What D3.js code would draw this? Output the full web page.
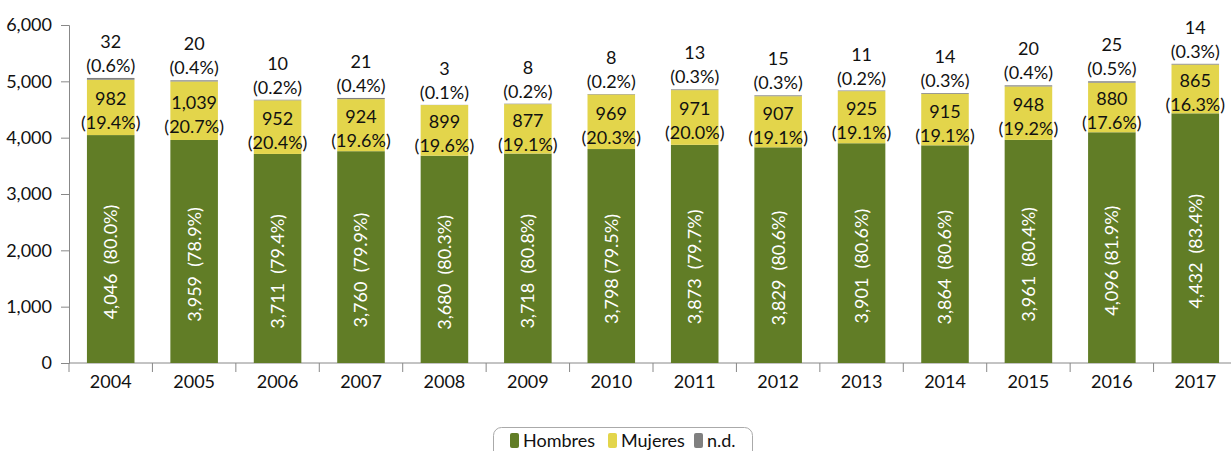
<!DOCTYPE html>
<html>
<head>
<meta charset="utf-8">
<script src="https://cdn.jsdelivr.net/npm/d3@7"></script>
<style>
  html, body { margin: 0; padding: 0; background: #fff; }
  svg { display: block; font-family: Lato, "Open Sans", sans-serif; }
</style>
</head>
<body>
<svg id="chart" width="1231" height="451"></svg>
<script>
const years = ["2004","2005","2006","2007","2008","2009","2010","2011","2012","2013","2014","2015","2016","2017"];
const hombres = [4046,3959,3711,3760,3680,3718,3798,3873,3829,3901,3864,3961,4096,4432];
const hombresPct = ["80.0","78.9","79.4","79.9","80.3","80.8","79.5","79.7","80.6","80.6","80.6","80.4","81.9","83.4"];
const hombresSep = ["  ","  ","  ","  ","  ","  "," ","  ","  ","  ","  ","  "," ","  "];
const mujeres = [982,1039,952,924,899,877,969,971,907,925,915,948,880,865];
const mujeresPct = ["19.4","20.7","20.4","19.6","19.6","19.1","20.3","20.0","19.1","19.1","19.1","19.2","17.6","16.3"];
const nd = [32,20,10,21,3,8,8,13,15,11,14,20,25,14];
const ndPct = ["0.6","0.4","0.2","0.4","0.1","0.2","0.2","0.3","0.3","0.2","0.3","0.4","0.5","0.3"];
const yTicks = [0,1000,2000,3000,4000,5000,6000];
const seriesNames = ["Hombres","Mujeres","n.d."];
const colors = ["#617d26","#e3d54b","#808080"];

const svg = d3.select("#chart");
const fmt = d3.format(",");
const FS = 18;

const x = d3.scaleBand().domain(years).range([69, 1237]).paddingInner(0.43).paddingOuter(0.215);
const y = d3.scaleLinear().domain([0, 6000]).range([363, 25]);

const rows = years.map((yr, i) => ({year: yr, Hombres: hombres[i], Mujeres: mujeres[i], "n.d.": nd[i], i}));
const stack = d3.stack().keys(seriesNames)(rows);

// axes
const yAxis = svg.append("g").attr("transform", "translate(69,0)")
  .call(d3.axisLeft(y).tickValues(yTicks).tickFormat(fmt).tickSize(8).tickPadding(9));
yAxis.select(".domain").attr("stroke", "#888");
yAxis.selectAll(".tick line").attr("stroke", "#888");
yAxis.selectAll("text").attr("font-size", FS).attr("fill", "#111").attr("font-family", "Lato, sans-serif");

const xAxis = svg.append("g").attr("transform", "translate(0,363)")
  .call(d3.axisBottom(x).tickSize(0).tickPadding(12));
xAxis.select(".domain").attr("stroke", "#888").attr("d", "M69,0H1237");
xAxis.selectAll("text").attr("font-size", FS).attr("fill", "#111").attr("font-family", "Lato, sans-serif");
// separators between categories
svg.append("g").selectAll("line").data(years.slice(1)).join("line")
  .attr("x1", d => x(d) - x.step() * x.paddingInner() / 2)
  .attr("x2", d => x(d) - x.step() * x.paddingInner() / 2)
  .attr("y1", 363).attr("y2", 372).attr("stroke", "#888");
svg.append("line").attr("x1", 69).attr("x2", 69).attr("y1", 363).attr("y2", 372).attr("stroke", "#888");

// bars
stack.forEach((s, k) => {
  svg.append("g").selectAll("rect").data(s).join("rect")
    .attr("x", d => x(d.data.year))
    .attr("width", x.bandwidth())
    .attr("y", d => y(d[1]))
    .attr("height", d => y(d[0]) - y(d[1]))
    .attr("fill", colors[k]);
});

// green labels (rotated)
svg.append("g").selectAll("text").data(stack[0]).join("text")
  .attr("transform", d => `translate(${x(d.data.year) + x.bandwidth()/2},${(y(d[0]) + y(d[1]))/2 + 13}) rotate(-90)`)
  .attr("text-anchor", "middle").attr("dy", "0.36em")
  .attr("fill", "#fff").attr("font-size", FS)
  .style("white-space", "pre")
  .text(d => fmt(d.data.Hombres) + hombresSep[d.data.i] + "(" + hombresPct[d.data.i] + "%)");

// yellow labels
const yl = svg.append("g").selectAll("text").data(stack[1]).join("text")
  .attr("text-anchor", "middle").attr("fill", "#111").attr("font-size", FS);
yl.append("tspan")
  .attr("x", d => x(d.data.year) + x.bandwidth()/2)
  .attr("y", d => (y(d[0]) + y(d[1]))/2 - 2)
  .text(d => fmt(d.data.Mujeres));
yl.append("tspan")
  .attr("x", d => x(d.data.year) + x.bandwidth()/2)
  .attr("y", d => (y(d[0]) + y(d[1]))/2 + 22)
  .text(d => "(" + mujeresPct[d.data.i] + "%)");

// top labels
const tl = svg.append("g").selectAll("text").data(stack[2]).join("text")
  .attr("text-anchor", "middle").attr("fill", "#111").attr("font-size", FS);
tl.append("tspan")
  .attr("x", d => x(d.data.year) + x.bandwidth()/2)
  .attr("y", d => y(d[1]) - 30)
  .text(d => fmt(d.data["n.d."]));
tl.append("tspan")
  .attr("x", d => x(d.data.year) + x.bandwidth()/2)
  .attr("y", d => y(d[1]) - 6)
  .text(d => "(" + ndPct[d.data.i] + "%)");

// legend
const lg = svg.append("g");
lg.append("rect").attr("x", 493.5).attr("y", 427.5).attr("width", 259).attr("height", 34)
  .attr("rx", 8).attr("fill", "#fff").attr("stroke", "#aaa");
const legendX = [510, 608, 694];
seriesNames.forEach((n, k) => {
  lg.append("rect").attr("x", legendX[k]).attr("y", 433).attr("width", 9).attr("height", 15)
    .attr("rx", 2).attr("fill", colors[k]);
  lg.append("text").attr("x", legendX[k] + 13).attr("y", 447).attr("font-size", FS)
    .attr("fill", "#111").text(n);
});
</script>
</body>
</html>
